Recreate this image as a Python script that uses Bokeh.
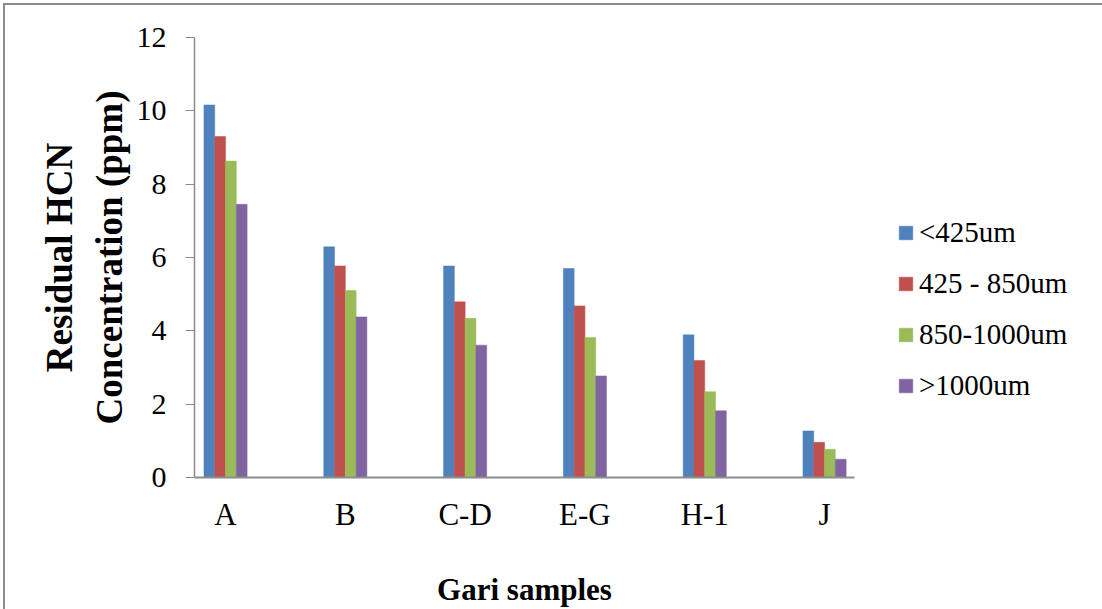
import numpy as np
from bokeh.plotting import figure
from bokeh.models import FixedTicker, Legend, LegendItem, Range1d, InlineStyleSheet
from bokeh.embed import file_html
from bokeh.resources import INLINE

categories = ["A", "B", "C-D", "E-G", "H-1", "J"]
series_names = ["<425um", "425 - 850um", "850-1000um", ">1000um"]
s_lt425 = [10.16, 6.29, 5.77, 5.70, 3.89, 1.27]
s_425_850 = [9.30, 5.77, 4.79, 4.68, 3.19, 0.96]
s_850_1000 = [8.63, 5.10, 4.34, 3.82, 2.34, 0.77]
s_gt1000 = [7.45, 4.38, 3.61, 2.77, 1.82, 0.50]
y_ticks = [0, 2, 4, 6, 8, 10, 12]
colors = ["#4F81BD", "#C0504D", "#9BBB59", "#8064A2"]

FONT = "Liberation Serif"
AXIS_GRAY = "#8c8c8c"

SERIF_CSS = ("* { font-family: 'Liberation Serif', serif !important; } "
             "svg text { font-family: 'Liberation Serif', serif !important; }")

p = figure(frame_width=660, frame_height=440, output_backend="svg", toolbar_location=None,
           x_range=Range1d(-0.259, 5.25), y_range=Range1d(0, 12),
           min_border_left=189, min_border_right=230, min_border_top=32,
           min_border_bottom=128)
p.stylesheets = [InlineStyleSheet(css=":host { margin-left: 3px; margin-top: 3px; "
                                      "border-left: 2px solid #8c8c8c; border-top: 2px solid #8c8c8c; "
                                      "font-family: 'Liberation Serif', serif; } " + SERIF_CSS)]

xs = np.arange(len(categories))
bw = 0.09
all_series = [s_lt425, s_425_850, s_850_1000, s_gt1000]
items = []
for i, (vals, col, name) in enumerate(zip(all_series, colors, series_names)):
    off = (i - 1.5) * bw
    r = p.vbar(x=xs + off, top=vals, bottom=0, width=bw, fill_color=col,
               line_color=col, line_width=0.5)
    items.append(LegendItem(label=name, renderers=[r]))

p.xgrid.visible = False
p.ygrid.visible = False
p.outline_line_color = None

# x axis
xa = p.xaxis[0]
xa.ticker = FixedTicker(ticks=list(xs))
xa.major_label_overrides = {int(i): c for i, c in zip(xs, categories)}
xa.major_tick_out = 0
xa.major_tick_in = 0
xa.minor_tick_out = 0
xa.minor_tick_in = 0
xa.axis_line_color = AXIS_GRAY
xa.axis_line_width = 2
xa.major_label_text_font = FONT
xa.major_label_text_font_size = "31px"
xa.major_label_text_color = "black"
xa.major_label_standoff = 19
xa.axis_label = "Gari samples"
xa.axis_label_text_font = FONT
xa.axis_label_text_font_size = "31px"
xa.axis_label_text_font_style = "bold"
xa.axis_label_text_color = "black"
xa.axis_label_standoff = 37

# y axis
ya = p.yaxis[0]
ya.ticker = FixedTicker(ticks=y_ticks)
ya.major_tick_out = 9
ya.major_tick_in = 0
ya.minor_tick_out = 0
ya.minor_tick_in = 0
ya.major_tick_line_color = AXIS_GRAY
ya.axis_line_color = AXIS_GRAY
ya.axis_line_width = 1.5
ya.major_label_text_font = FONT
ya.major_label_text_font_size = "30px"
ya.major_label_text_color = "black"
ya.major_label_standoff = 19
ya.axis_label = "Residual HCN\nConcentration (ppm)"
ya.axis_label_text_font = FONT
ya.axis_label_text_font_size = "37px"
ya.axis_label_text_font_style = "bold"
ya.axis_label_text_color = "black"
ya.axis_label_standoff = 4

legend = Legend(items=items, location=(43, 75), orientation="vertical",
                label_text_font=FONT, label_text_font_size="29px",
                label_text_color="black", glyph_width=17, glyph_height=17,
                label_standoff=5, spacing=18, padding=0, margin=0,
                border_line_color=None, background_fill_alpha=0)
if "stylesheets" in legend.properties():
    legend.stylesheets = [InlineStyleSheet(css=SERIF_CSS)]
p.add_layout(legend, "right")

open("out.html", "w").write(file_html(p, INLINE))
